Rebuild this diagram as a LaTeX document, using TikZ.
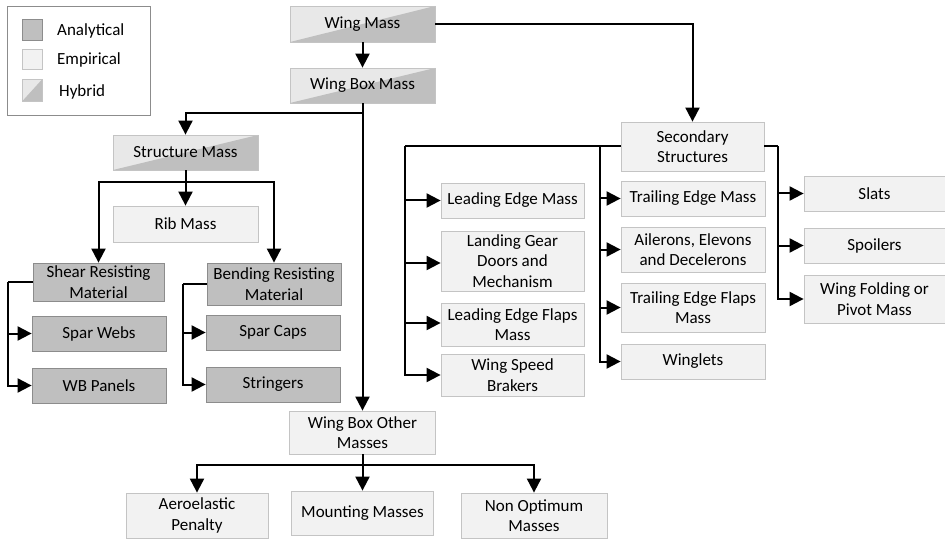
\documentclass[tikz,border=0pt]{standalone}
\usepackage{fontspec}
\setmainfont{Carlito}
\usetikzlibrary{arrows.meta}
\definecolor{analyticfill}{HTML}{BFBFBF}
\definecolor{analyticline}{HTML}{8C8C8C}
\definecolor{empiricfill}{HTML}{F2F2F2}
\definecolor{empiricline}{HTML}{C4C4C4}
\definecolor{hybridlight}{HTML}{E8E8E8}
\definecolor{hybriddark}{HTML}{BFBFBF}
\tikzset{
  massbox/.style={inner sep=0pt, align=center, line width=0.8pt,
    font=\fontsize{17}{20.5}\selectfont},
  analytical/.style={massbox, draw=analyticline, fill=analyticfill},
  empirical/.style={massbox, draw=empiricline, fill=empiricfill},
  hybrid/.style={massbox, draw=empiricline, fill=hybridlight,
    path picture={\fill[hybriddark] (path picture bounding box.south west)
      -| (path picture bounding box.north east) -- cycle;}},
  size/.style n args={2}{minimum width=#1pt, minimum height=#2pt},
  arr/.style={-{Triangle[length=14pt,width=14pt]}, line width=2pt},
  bus/.style={line width=2pt},
  legendtext/.style={anchor=west, inner sep=0pt, font=\fontsize{17}{20}\selectfont}
}
\begin{document}
\begin{tikzpicture}[x=1pt, y=-1pt]
\useasboundingbox (0,0) rectangle (945,540);

% legend
\draw[analyticline, line width=0.8pt] (7,6) rectangle (150,115);
\node[analytical, size={20}{21}] (keyana) at (32,29.5) {};
\node[empirical, size={20}{20}] (keyemp) at (32,59) {};
\node[hybrid, size={20}{22}] (keyhyb) at (32,90.5) {};
\node[legendtext] (keyanatext) at (57,31) {Analytical};
\node[legendtext] (keyemptext) at (57,60) {Empirical};
\node[legendtext] (keyhybtext) at (59,92) {Hybrid};

% wing and wing box
\node[hybrid, size={145}{36}] (wingmass) at (362.5,24) {Wing Mass};
\node[hybrid, size={145}{35}] (wingbox) at (362.5,85.5) {Wing Box Mass};
\node[hybrid, size={145}{35}] (structure) at (185.5,152.5) {Structure Mass};
\node[empirical, size={145}{36}] (rib) at (185.5,224) {Rib Mass};
\node[analytical, size={131}{38}] (shear) at (98.5,282) {Shear Resisting\\Material};
\node[analytical, size={134}{42}] (bending) at (274,284) {Bending Resisting\\Material};
\node[analytical, size={134}{35}] (sparwebs) at (99,333.5) {Spar Webs};
\node[analytical, size={134}{35}] (wbpanels) at (99,385.5) {WB Panels};
\node[analytical, size={134}{35}] (sparcaps) at (273,332.5) {Spar Caps};
\node[analytical, size={134}{35}] (stringers) at (273,384.5) {Stringers};
\node[empirical, size={146}{43}] (other) at (362.5,432.5) {Wing Box Other\\Masses};
\node[empirical, size={142}{45}] (aero) at (197,515.5) {Aeroelastic\\Penalty};
\node[empirical, size={142}{44}] (mounting) at (362.5,513) {Mounting Masses};
\node[empirical, size={146}{45}] (nonopt) at (534,515.5) {Non Optimum\\Masses};

% secondary structures
\node[empirical, size={143}{49}] (secondary) at (692.5,146.5) {Secondary\\Structures};
\node[empirical, size={143}{35}] (lemass) at (512.5,200.5) {Leading Edge Mass};
\node[empirical, size={143}{60}] (landing) at (512.5,261) {Landing Gear\\Doors and\\Mechanism};
\node[empirical, size={143}{43}] (leflaps) at (512.5,324.5) {Leading Edge Flaps\\Mass};
\node[empirical, size={143}{42}] (brakers) at (512.5,375) {Wing Speed\\Brakers};
\node[empirical, size={144}{35}] (temass) at (693,198.5) {Trailing Edge Mass};
\node[empirical, size={144}{45}] (ailerons) at (693,249.5) {Ailerons, Elevons\\and Decelerons};
\node[empirical, size={144}{49}] (teflaps) at (693,307.5) {Trailing Edge Flaps\\Mass};
\node[empirical, size={144}{35}] (winglets) at (693,361.5) {Winglets};
\node[empirical, size={141}{35}] (slats) at (874.5,193.5) {Slats};
\node[empirical, size={141}{35}] (spoilers) at (874.5,245.5) {Spoilers};
\node[empirical, size={141}{48}] (folding) at (874.5,299) {Wing Folding or\\Pivot Mass};

% branch points
\coordinate (wbsplit) at (362.5,113);
\coordinate (stsplit) at (185.5,182);
\coordinate (shearbus) at (8,282);
\coordinate (bendbus) at (183,284);
\coordinate (obsplit) at (362.5,465);
\coordinate (lebus) at (405,146.5);
\coordinate (tebus) at (600,146.5);
\coordinate (rbus) at (778,146.5);

% connectors
\draw[arr] (wingmass) -- (wingbox);
\draw[arr] (wingmass.east) -| (secondary.north);
\draw[arr] (wingbox.south) -- (other.north);
\draw[arr] (wbsplit) -| (structure.north);
\draw[arr] (structure) -- (rib);
\draw[arr] (stsplit) -| (shear.north);
\draw[arr] (stsplit) -| (bending.north);
\draw[bus] (shear.west) -- (shearbus);
\draw[arr] (shearbus) |- (sparwebs.west);
\draw[arr] (shearbus) |- (wbpanels.west);
\draw[bus] (bending.west) -- (bendbus);
\draw[arr] (bendbus) |- (sparcaps.west);
\draw[arr] (bendbus) |- (stringers.west);
\draw[arr] (other) -- (mounting);
\draw[arr] (obsplit) -| (aero.north);
\draw[arr] (obsplit) -| (nonopt.north);
\draw[bus] (secondary.west) -- (lebus);
\draw[arr] (lebus) |- (lemass.west);
\draw[arr] (lebus) |- ([yshift=-2pt]landing.west);
\draw[arr] (lebus) |- ([yshift=1.5pt]leflaps.west);
\draw[arr] (lebus) |- (brakers.west);
\draw[arr] (tebus) |- (temass.west);
\draw[arr] (tebus) |- (ailerons.west);
\draw[arr] (tebus) |- (teflaps.west);
\draw[arr] (tebus) |- (winglets.west);
\draw[bus] (secondary.east) -- (rbus);
\draw[arr] (rbus) |- (slats.west);
\draw[arr] (rbus) |- (spoilers.west);
\draw[arr] (rbus) |- (folding.west);

\end{tikzpicture}
\end{document}
